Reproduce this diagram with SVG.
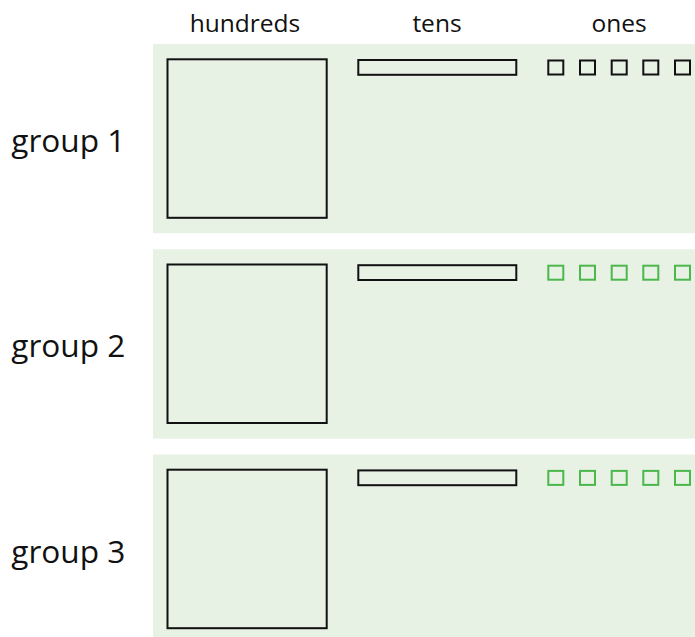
<svg xmlns="http://www.w3.org/2000/svg" width="695" height="637" viewBox="0 0 695 637">
<style>
.panel{fill:#e7f1e4;stroke:none}
.blk{fill:none;stroke:#111;stroke-width:2}
.grn{fill:none;stroke:#4cb84c;stroke-width:2}
.hdr{font-family:"Open Sans","DejaVu Sans",sans-serif;font-size:24.5px;fill:#111;text-anchor:middle}
.lbl{font-family:"Open Sans","DejaVu Sans",sans-serif;font-size:31.6px;fill:#111}
</style>
<rect width="695" height="637" fill="#ffffff"/>
<g id="headers">
<text class="hdr" x="245" y="32">hundreds</text>
<text class="hdr" x="437" y="32">tens</text>
<text class="hdr" x="619" y="32">ones</text>
</g>
<g id="group1">
<rect class="panel" x="153" y="44" width="542" height="189.3"/>
<text class="lbl" x="11.3" y="152">group 1</text>
<rect class="blk" x="167.5" y="59.3" width="159.2" height="158.5"/>
<rect class="blk" x="358.3" y="60" width="158" height="14.8"/>
<rect class="blk" x="548.3" y="60.5" width="15" height="14"/>
<rect class="blk" x="580" y="60.5" width="15" height="14"/>
<rect class="blk" x="611.7" y="60.5" width="15" height="14"/>
<rect class="blk" x="643.3" y="60.5" width="15" height="14"/>
<rect class="blk" x="675" y="60.5" width="15" height="14"/>
</g>
<g id="group2">
<rect class="panel" x="153" y="249.3" width="542" height="189.3"/>
<text class="lbl" x="11.3" y="357.3">group 2</text>
<rect class="blk" x="167.5" y="264.5" width="159.2" height="158.5"/>
<rect class="blk" x="358.3" y="265.2" width="158" height="14.8"/>
<rect class="grn" x="548.3" y="265.7" width="15" height="14"/>
<rect class="grn" x="580" y="265.7" width="15" height="14"/>
<rect class="grn" x="611.7" y="265.7" width="15" height="14"/>
<rect class="grn" x="643.3" y="265.7" width="15" height="14"/>
<rect class="grn" x="675" y="265.7" width="15" height="14"/>
</g>
<g id="group3">
<rect class="panel" x="153" y="454.5" width="542" height="189.3"/>
<text class="lbl" x="11.3" y="562.6">group 3</text>
<rect class="blk" x="167.5" y="469.7" width="159.2" height="158.5"/>
<rect class="blk" x="358.3" y="470.4" width="158" height="14.8"/>
<rect class="grn" x="548.3" y="470.9" width="15" height="14"/>
<rect class="grn" x="580" y="470.9" width="15" height="14"/>
<rect class="grn" x="611.7" y="470.9" width="15" height="14"/>
<rect class="grn" x="643.3" y="470.9" width="15" height="14"/>
<rect class="grn" x="675" y="470.9" width="15" height="14"/>
</g>
<g id="connectors"/>
</svg>
